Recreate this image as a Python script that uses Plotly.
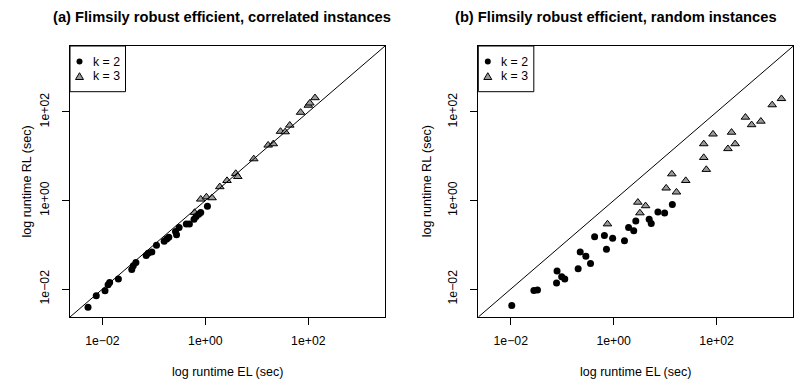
import numpy as np
import plotly.graph_objects as go

# ---- data (log10 seconds) ----
a_k2_el = [-2.28, -2.12, -1.95, -1.89, -1.86, -1.69, -1.43, -1.40, -1.35, -1.15, -1.11, -1.04, -0.95,
           -0.80, -0.75, -0.71, -0.58, -0.56, -0.51, -0.37, -0.31, -0.22, -0.18, -0.13, -0.09, 0.04]
a_k2_rl = [-2.41, -2.15, -2.04, -1.90, -1.85, -1.77, -1.56, -1.47, -1.40, -1.24, -1.19, -1.16, -1.01,
           -0.92, -0.87, -0.83, -0.70, -0.77, -0.61, -0.53, -0.53, -0.42, -0.36, -0.31, -0.27, -0.13]
a_k3_el = [-0.21, -0.09, 0.02, 0.13, 0.28, 0.42, 0.59, 0.63, 0.94, 1.22, 1.32, 1.46, 1.55, 1.64,
           1.85, 2.00, 2.03, 2.13]
a_k3_rl = [-0.27, 0.03, 0.08, 0.06, 0.31, 0.45, 0.61, 0.54, 0.94, 1.25, 1.28, 1.56, 1.55, 1.70,
           1.99, 2.15, 2.20, 2.32]

b_k2_el = [-1.98, -1.55, -1.48, -1.11, -1.10, -1.01, -0.95, -0.69, -0.65, -0.54, -0.45, -0.37,
           -0.18, -0.14, -0.02, 0.21, 0.29, 0.39, 0.43, 0.69, 0.73, 0.86, 0.99, 1.14]
b_k2_rl = [-2.37, -2.03, -2.02, -1.86, -1.59, -1.72, -1.77, -1.54, -1.16, -1.26, -1.42, -0.82,
           -0.79, -1.10, -0.85, -0.91, -0.61, -0.68, -0.46, -0.42, -0.52, -0.26, -0.28, -0.09]
b_k3_el = [-0.12, 0.47, 0.51, 0.62, 1.02, 1.22, 1.13, 1.40, 1.75, 1.80, 1.75, 1.93, 2.22, 2.29,
           2.36, 2.56, 2.68, 2.86, 3.08, 3.26]
b_k3_rl = [-0.53, -0.04, -0.28, -0.12, 0.28, 0.19, 0.60, 0.45, 0.97, 0.70, 1.28, 1.50, 1.17, 1.54,
           1.28, 1.88, 1.71, 1.79, 2.16, 2.30]

tick_vals = [0.01, 1, 100]
tick_text = ["1e\u221202", "1e+00", "1e+02"]
titles = ["(a) Flimsily robust efficient, correlated instances",
          "(b) Flimsily robust efficient, random instances"]
legend_labels = ["k = 2", "k = 3"]
x_title = "log runtime EL (sec)"
y_title = "log runtime RL (sec)"

LOG_RANGE = [-2.63, 3.49]

W, H = 801, 381
FONT = "Liberation Sans, Arial, Helvetica, sans-serif"
GRAY = "#999999"


def px(x):
    return x / W


def py(y):
    return 1 - y / H


fig = go.Figure()

panels = [
    (a_k2_el, a_k2_rl, a_k3_el, a_k3_rl, "x", "y"),
    (b_k2_el, b_k2_rl, b_k3_el, b_k3_rl, "x2", "y2"),
]
for k2x, k2y, k3x, k3y, xa, ya in panels:
    fig.add_trace(go.Scatter(
        x=10 ** np.array(k3x), y=10 ** np.array(k3y), mode="markers",
        marker=dict(symbol="triangle-up", size=7.5, color=GRAY,
                    line=dict(color="black", width=1)),
        xaxis=xa, yaxis=ya, showlegend=False, cliponaxis=False))
    fig.add_trace(go.Scatter(
        x=10 ** np.array(k2x), y=10 ** np.array(k2y), mode="markers",
        marker=dict(symbol="circle", size=7, color="black", line=dict(width=0)),
        xaxis=xa, yaxis=ya, showlegend=False, cliponaxis=False))
    diag = 10 ** np.array(LOG_RANGE)
    fig.add_trace(go.Scatter(
        x=diag, y=diag, mode="lines", line=dict(color="black", width=1),
        xaxis=xa, yaxis=ya, showlegend=False, hoverinfo="skip"))

# panel geometry in pixels
plot_top, plot_bottom = 46, 317
panel_x = [(70, 385), (478.3, 793.3)]

axis_common = dict(
    type="log", range=LOG_RANGE, showgrid=False, zeroline=False,
    showline=True, linecolor="black", linewidth=1, mirror=True,
    ticks="outside", ticklen=7, tickwidth=1, tickcolor="black",
    tickvals=tick_vals, ticktext=tick_text,
    tickfont=dict(family=FONT, size=12.3, color="black"),
)

fig.update_layout(
    xaxis=dict(domain=[px(panel_x[0][0]), px(panel_x[0][1])], anchor="y",
               ticklabelstandoff=5, **axis_common),
    yaxis=dict(domain=[py(plot_bottom), py(plot_top)], anchor="x", tickangle=-90,
               ticklabelstandoff=8, **axis_common),
    xaxis2=dict(domain=[px(panel_x[1][0]), px(panel_x[1][1])], anchor="y2",
                ticklabelstandoff=5, **axis_common),
    yaxis2=dict(domain=[py(plot_bottom), py(plot_top)], anchor="x2", tickangle=-90,
                ticklabelstandoff=8, **axis_common),
)

annotations = []
shapes = []
title_cx = [221.7, 615.8]
ytitle_x = [26, 426.7]
for i, (x0, x1) in enumerate(panel_x):
    annotations.append(dict(
        text="<b>%s</b>" % titles[i], x=px(title_cx[i]), y=py(17), xref="paper", yref="paper",
        xanchor="center", yanchor="middle", showarrow=False,
        font=dict(family=FONT, size=14.7, color="black")))
    annotations.append(dict(
        text=x_title, x=px((x0 + x1) / 2), y=py(371.5), xref="paper", yref="paper",
        xanchor="center", yanchor="middle", showarrow=False,
        font=dict(family=FONT, size=12.5, color="black")))
    annotations.append(dict(
        text=y_title, x=px(ytitle_x[i]), y=py((plot_top + plot_bottom) / 2), xref="paper",
        yref="paper", xanchor="center", yanchor="middle", showarrow=False, textangle=-90,
        font=dict(family=FONT, size=12.5, color="black")))
    # legend box
    lx0 = x0
    lx1 = x0 + 55.5
    shapes.append(dict(type="rect", xref="paper", yref="paper",
                       x0=px(lx0), x1=px(lx1), y0=py(91.7), y1=py(plot_top),
                       line=dict(color="black", width=1), fillcolor="white", layer="above"))
    sx = lx0 + 9.5
    r = 3
    shapes.append(dict(type="circle", xref="paper", yref="paper",
                       x0=px(sx - r), x1=px(sx + r), y0=py(61.5 + r), y1=py(61.5 - r),
                       line=dict(color="black", width=0), fillcolor="black", layer="above"))
    ty = 76.5
    path = "M %f,%f L %f,%f L %f,%f Z" % (
        px(sx - 4), py(ty + 3), px(sx + 4), py(ty + 3), px(sx), py(ty - 3.8))
    shapes.append(dict(type="path", path=path, xref="paper", yref="paper",
                       line=dict(color="black", width=1), fillcolor=GRAY, layer="above"))
    for j, lab in enumerate(legend_labels):
        annotations.append(dict(
            text=lab, x=px(lx0 + 20.5), y=py([62, 76.5][j]), xref="paper", yref="paper",
            xanchor="left", yanchor="middle", showarrow=False,
            font=dict(family=FONT, size=12.3, color="black")))

fig.update_layout(
    width=W, height=H, margin=dict(l=0, r=0, t=0, b=0),
    paper_bgcolor="white", plot_bgcolor="white",
    annotations=annotations, shapes=shapes, showlegend=False,
)

fig.write_html("out.html")
